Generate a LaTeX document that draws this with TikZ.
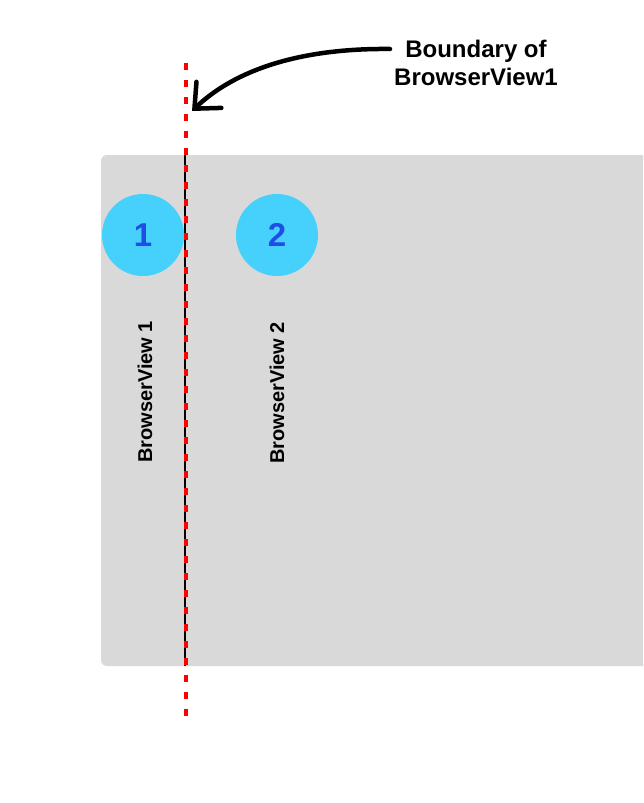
\documentclass[tikz,border=0pt]{standalone}
\usepackage{fontspec}
\setmainfont{Liberation Sans}
\usetikzlibrary{arrows.meta}
\definecolor{panelgray}{HTML}{D9D9D9}
\definecolor{bubblecyan}{HTML}{46D1FD}
\definecolor{digitblue}{HTML}{1F4DE6}
\begin{document}
\begin{tikzpicture}[x=1pt, y=-1pt,
  bubble/.style={circle, fill=bubblecyan, minimum size=82pt, inner sep=0pt, text=digitblue, font=\fontsize{33}{33}\selectfont\bfseries},
  viewlabel/.style={rotate=90, inner sep=0pt, font=\fontsize{20}{20}\selectfont\bfseries}]
\useasboundingbox (0,0) rectangle (643,803);
\clip (0,0) rectangle (643,803);
\fill[panelgray, rounded corners=6pt] (101,155) rectangle (700,666);
\node[bubble] (B_1) at (143,235) {1};
\node[bubble] (B_2) at (277,235) {2};
\node[viewlabel] (V_1) at (145,392) {BrowserView 1};
\node[viewlabel] (V_2) at (277,393) {BrowserView 2};
\coordinate (L_top) at (185,155);
\coordinate (L_bot) at (185,666);
\draw[line width=2pt] (L_top) -- (L_bot);
\coordinate (R_top) at (186,63);
\coordinate (R_bot) at (186,722);
\draw[red, line width=4pt, dash pattern=on 7pt off 10pt] (R_top) -- (R_bot);
\node[align=center, font=\fontsize{24}{28}\selectfont\bfseries] (note) at (476,63) {Boundary of\\BrowserView1};
\coordinate (start) at (390,49);
\coordinate (tip) at (192,111);
\draw[line width=4.5pt, line cap=round, -{Straight Barb[length=20pt, width=36pt, line cap=round]}] (start) .. controls (300,48) and (235,70) .. (tip);
\end{tikzpicture}
\end{document}
